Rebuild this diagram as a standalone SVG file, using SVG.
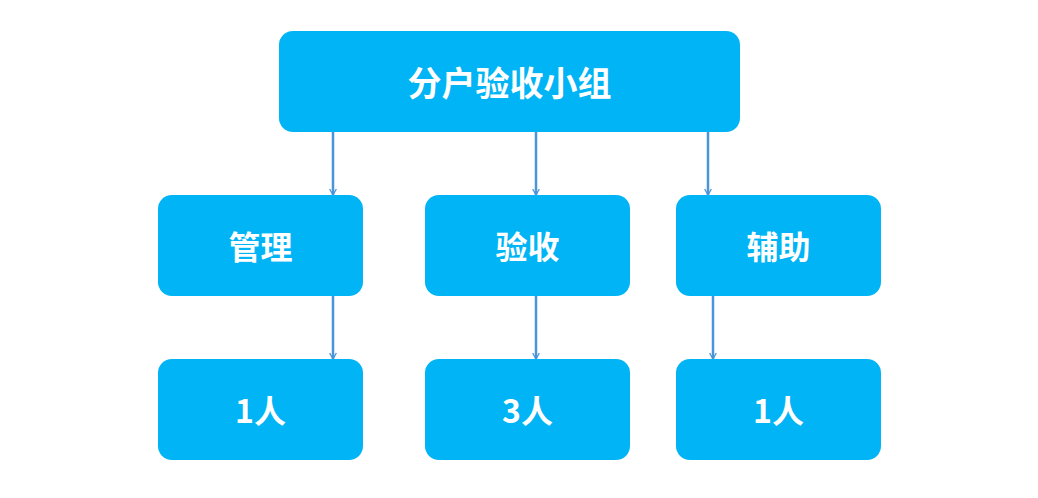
<svg xmlns="http://www.w3.org/2000/svg" width="1038" height="498" viewBox="0 0 1038 498">
<style>
.b{fill:#00B4F5}
.t{fill:#fff;font-family:"Noto Sans CJK SC","Noto Sans",sans-serif;font-weight:bold;font-size:32px;text-anchor:middle;dominant-baseline:central}
.c{stroke:#4A94D8;stroke-width:2.5;fill:none;marker-end:url(#a)}
</style>
<defs><marker id="a" viewBox="0 0 12 12" refX="10" refY="6" markerWidth="8" markerHeight="8" markerUnits="userSpaceOnUse" orient="auto"><path d="M1,1 L10,6 L1,11" fill="none" stroke="#4A94D8" stroke-width="2"/></marker></defs>
<rect width="1038" height="498" fill="#fff"/>
<g id="connectors">
<line class="c" x1="333" y1="132" x2="333" y2="195"/>
<line class="c" x1="536" y1="132" x2="536" y2="195"/>
<line class="c" x1="708" y1="132" x2="708" y2="195"/>
<line class="c" x1="333" y1="296" x2="333" y2="359"/>
<line class="c" x1="536" y1="296" x2="536" y2="359"/>
<line class="c" x1="713" y1="296" x2="713" y2="359"/>
</g>
<g id="top"><rect class="b" x="279" y="31" width="461" height="101" rx="14"/><text class="t" x="509.5" y="81" style="font-size:34px">分户验收小组</text></g>
<g id="m1"><rect class="b" x="158" y="195" width="205" height="101" rx="14"/><text class="t" x="260.5" y="245">管理</text></g>
<g id="m2"><rect class="b" x="425" y="195" width="205" height="101" rx="14"/><text class="t" x="527.5" y="245">验收</text></g>
<g id="m3"><rect class="b" x="676" y="195" width="205" height="101" rx="14"/><text class="t" x="778.5" y="245">辅助</text></g>
<g id="b1"><rect class="b" x="158" y="359" width="205" height="101" rx="14"/><text class="t" x="260.5" y="409">1人</text></g>
<g id="b2"><rect class="b" x="425" y="359" width="205" height="101" rx="14"/><text class="t" x="527.5" y="409">3人</text></g>
<g id="b3"><rect class="b" x="676" y="359" width="205" height="101" rx="14"/><text class="t" x="778.5" y="409">1人</text></g>
</svg>
